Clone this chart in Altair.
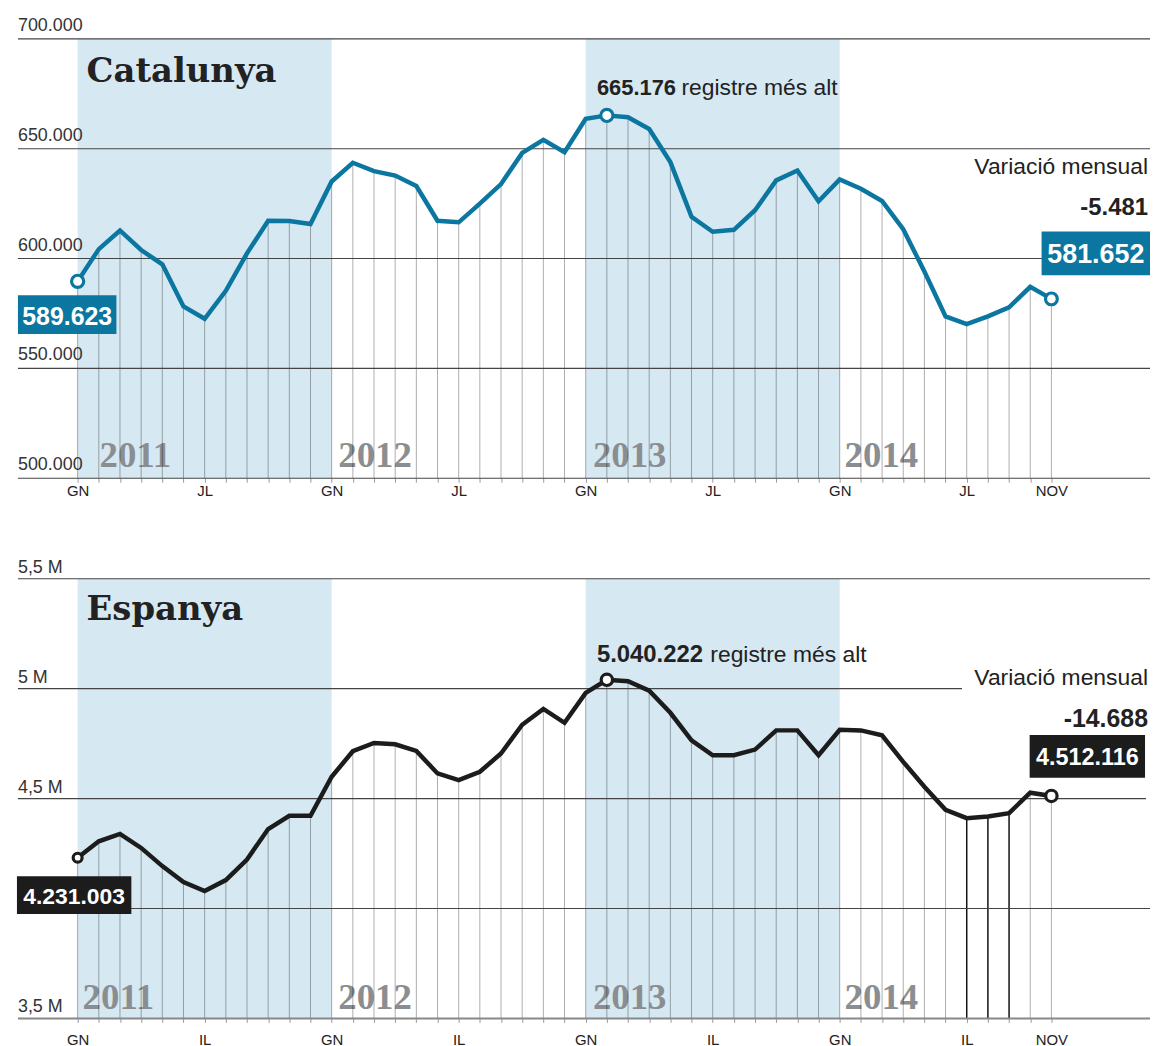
import altair as alt
import pandas as pd

# ---------------- data ----------------
month_index = list(range(47))  # GN 2011 ... NOV 2014
catalunya = [589623, 604300, 612800, 603900, 597400, 578200, 572600, 585300, 602400, 617200, 617100, 615700,
             635100, 643600, 639800, 637800, 633000, 617200, 616500, 625000, 633900, 648100, 654000, 648400,
             663600, 665176, 664300, 659000, 643900, 619000, 612200, 613100, 622000, 635600, 640100, 626100,
             636000, 631800, 626200, 613400, 594100, 573700, 570200, 573700, 577800, 587133, 581652]
espanya = [4231003, 4305700, 4338900, 4275600, 4192800, 4120500, 4079800, 4129500, 4222900, 4361500, 4421700, 4422000,
           4599400, 4715400, 4753000, 4747000, 4716900, 4614500, 4584400, 4622000, 4704800, 4835900, 4908100, 4844900,
           4980400, 5040222, 5034000, 4991000, 4890100, 4765100, 4697300, 4697300, 4722900, 4810300, 4810300, 4697300,
           4813000, 4810000, 4787700, 4667200, 4554200, 4448800, 4411200, 4418700, 4433800, 4526804, 4512116]
axis_tick_index = [0, 6, 12, 18, 24, 30, 36, 42, 46]
cat_axis_labels = ["GN", "JL", "GN", "JL", "GN", "JL", "GN", "JL", "NOV"]
esp_axis_labels = ["GN", "IL", "GN", "IL", "GN", "IL", "GN", "IL", "NOV"]
year_names = ["2011", "2012", "2013", "2014"]
shaded_from = [0, 24]
shaded_to = [12, 36]
cat_grid_values = [500000, 550000, 600000, 650000, 700000]
cat_grid_labels = ["500.000", "550.000", "600.000", "650.000", "700.000"]
esp_grid_values = [3500000, 4000000, 4500000, 5000000, 5500000]
esp_grid_labels = ["3,5 M", "", "4,5 M", "5 M", "5,5 M"]  # the 4 M label sits hidden behind the value box
highlight_months = [0, 25, 46]
cat_change = -5481
esp_change = -14688


def fmt(v):
    s = f"{abs(v):,}".replace(",", ".")
    return ("-" if v < 0 else "") + s


# ---------------- layout ----------------
PAD_LEFT, PAD_TOP = 9, 4
PLOT_LEFT = 8 + PAD_LEFT          # page x of plot left edge
X0_PAGE = 77.0                    # page x of GN 2011
DX = 21.28                        # px per month
W = 1138
X_MIN = (PLOT_LEFT - X0_PAGE) / DX
X_MAX = (PLOT_LEFT + W - X0_PAGE) / DX

H1, H2, GAP = 466, 467, 76
TOP1 = 8 + PAD_TOP
BOT1 = TOP1 + H1                  # page y of 500.000
TOP2 = BOT1 + GAP
BOT2 = TOP2 + H2                  # page y of 3,5 M
K1 = 200000 / 441.7
K2 = 2000000 / 442.0


def ix(px):
    return (px - X0_PAGE) / DX


def vy1(py):
    return 500000 + (BOT1 - py) * K1


def vy2(py):
    return 3500000 + (BOT2 - py) * K2


NUM_FONT = "Liberation Sans, Arial, sans-serif"
TXT_FONT = "Liberation Sans, Arial, sans-serif"
SERIF = "DejaVu Serif, serif"
YEAR_FONT = "Liberation Serif, serif"
BLUE = "#0b77a1"
BLACK = "#1c1c1c"
SHADE = "#d6e8f2"


def panel(values, color, vy, h, ymin, ygrid_top, grid_vals, grid_labels, grid_ends, grid_colors,
          grid_widths, axis_labels, label_pad, label_dy, title, title_base, years_px, year_base,
          marker_sizes, drop_colors, drop_widths, boxes, annots):
    ytop = vy(BOT1 - h) if vy is vy1 else vy(BOT2 - h)
    xs = alt.Scale(domain=[X_MIN, X_MAX], nice=False, zero=False)
    ys = alt.Scale(domain=[ymin, ytop], nice=False, zero=False)
    expr = ""
    for i, l in zip(axis_tick_index, axis_labels):
        expr += f"datum.value == {i} ? '{l}' : "
    expr += "''"
    xaxis = alt.Axis(values=month_index, labelExpr=expr, tickSize=4, tickColor="#999", tickWidth=1,
                     domain=False, grid=False, labelFont=TXT_FONT, labelFontSize=15, labelColor="#222",
                     labelPadding=label_pad, labelFlush=False, labelOverlap=False, title=None)

    def X(f):
        return alt.X(f"{f}:Q", scale=xs, axis=xaxis, title=None)

    def Y(f):
        return alt.Y(f"{f}:Q", scale=ys, axis=None, title=None)

    layers = []
    bands = pd.DataFrame({"x0": shaded_from, "x1": shaded_to, "y0": [ymin] * 2, "y1": [ygrid_top] * 2})
    layers.append(alt.Chart(bands).mark_rect(color=SHADE).encode(
        x=X("x0"), x2="x1", y=Y("y0"), y2="y1"))

    yr = pd.DataFrame({"x": [ix(p) for p in years_px], "y": [vy(year_base)] * 4, "t": year_names})
    layers.append(alt.Chart(yr).mark_text(align="left", baseline="alphabetic", font=YEAR_FONT,
                                          fontSize=37, fontWeight="bold", color="#8a8e91").encode(
        x=X("x"), y=Y("y"), text="t:N"))

    df = pd.DataFrame({"idx": month_index, "value": values, "base": [ymin] * len(values),
                       "dc": drop_colors, "dw": drop_widths})
    layers.append(alt.Chart(df).mark_rule().encode(
        x=X("idx"), y=Y("value"), y2="base",
        color=alt.Color("dc:N", scale=None), strokeWidth=alt.StrokeWidth("dw:Q", scale=None)))

    g = pd.DataFrame({"v": grid_vals, "lab": grid_labels, "xs": [X_MIN] * 5, "xe": grid_ends,
                      "gc": grid_colors, "gw": grid_widths})
    layers.append(alt.Chart(g).mark_rule().encode(
        x=X("xs"), x2="xe", y=Y("v"),
        color=alt.Color("gc:N", scale=None), strokeWidth=alt.StrokeWidth("gw:Q", scale=None)))
    layers.append(alt.Chart(g).mark_text(align="left", baseline="alphabetic", dy=label_dy, font=TXT_FONT,
                                         fontSize=18, color="#333").encode(
        x=X("xs"), y=Y("v"), text="lab:N"))

    tdf = pd.DataFrame({"x": [ix(86)], "y": [vy(title_base)], "t": [title]})
    layers.append(alt.Chart(tdf).mark_text(align="left", baseline="alphabetic", font=SERIF, fontSize=34,
                                           fontWeight="bold", color="#222").encode(
        x=X("x"), y=Y("y"), text="t:N"))

    layers.append(alt.Chart(df).mark_line(color=color, strokeWidth=4.5).encode(x=X("idx"), y=Y("value")))

    mk = pd.DataFrame({"idx": highlight_months, "value": [values[i] for i in highlight_months],
                       "s": marker_sizes})
    layers.append(alt.Chart(mk).mark_point(shape="circle", filled=True, fill="white", stroke=color,
                                           strokeWidth=3.2, opacity=1).encode(
        x=X("idx"), y=Y("value"), size=alt.Size("s:Q", scale=None)))

    for (x0, x1, y0, y1, txt, base, fs, bc) in boxes:
        b = pd.DataFrame({"x0": [ix(x0)], "x1": [ix(x1)], "y0": [vy(y1)], "y1": [vy(y0)],
                          "xc": [ix((x0 + x1) / 2)], "yb": [vy(base)], "t": [txt]})
        layers.append(alt.Chart(b).mark_rect(color=bc).encode(x=X("x0"), x2="x1", y=Y("y0"), y2="y1"))
        layers.append(alt.Chart(b).mark_text(align="center", baseline="alphabetic", font=NUM_FONT,
                                             fontSize=fs, fontWeight="bold", color="white").encode(
            x=X("xc"), y=Y("yb"), text="t:N"))

    for (px, py, txt, align, font, fs, fw) in annots:
        a = pd.DataFrame({"x": [ix(px)], "y": [vy(py)], "t": [txt]})
        layers.append(alt.Chart(a).mark_text(align=align, baseline="alphabetic", font=font, fontSize=fs,
                                             fontWeight=fw, color="#222").encode(
            x=X("x"), y=Y("y"), text="t:N"))

    return alt.layer(*layers).properties(width=W, height=h)


top = panel(
    catalunya, BLUE, vy1, H1, 500000, 700000,
    cat_grid_values, cat_grid_labels, [X_MAX] * 5, ["#444"] * 5, [1.1] * 5,
    cat_axis_labels, 1, -8, "Catalunya", 80, [99, 339, 595, 848], 467,
    [150, 150, 140], ["rgba(0,0,0,0.32)"] * 47, [1] * 47,
    [(17, 116, 294, 333, fmt(catalunya[0]), 324, 25, BLUE),
     (1046, 1155, 230, 274, fmt(catalunya[-1]), 262, 27, BLUE)],
    [(599, 93, fmt(max(catalunya)), "left", NUM_FONT, 22, "bold"),
     (684, 93, "registre més alt", "left", TXT_FONT, 23, "normal"),
     (1153, 172, "Variació mensual", "right", TXT_FONT, 23, "normal"),
     (1153, 213, fmt(cat_change), "right", NUM_FONT, 24, "bold")],
)

esp_drop_colors = ["rgba(0,0,0,0.32)"] * 47
esp_drop_widths = [1] * 47
for i in (42, 43, 44):
    esp_drop_colors[i] = "#111"
    esp_drop_widths[i] = 1.5

bottom = panel(
    espanya, BLACK, vy2, H2, 3500000, 5500000,
    esp_grid_values, esp_grid_labels, [X_MAX, X_MAX, ix(1151), ix(966), X_MAX],
    ["#888", "#444", "#444", "#444", "#444"], [2, 1.1, 1.1, 1.1, 1.1],
    esp_axis_labels, 10, -6, "Espanya", 620, [82, 339, 595, 848], 1012,
    [80, 130, 130], esp_drop_colors, esp_drop_widths,
    [(16, 131, 878, 916, fmt(espanya[0]), 906, 23, BLACK),
     (1034, 1150, 736, 779, fmt(espanya[-1]), 766, 23.5, BLACK)],
    [(599, 663, fmt(max(espanya)), "left", NUM_FONT, 24, "bold"),
     (713, 663, "registre més alt", "left", TXT_FONT, 23, "normal"),
     (1153, 686, "Variació mensual", "right", TXT_FONT, 23, "normal"),
     (1153, 728, fmt(esp_change), "right", NUM_FONT, 25, "bold")],
)

chart = alt.vconcat(top, bottom, spacing=GAP, bounds="flush").resolve_scale(
    x="independent", y="independent").properties(
    padding={"left": PAD_LEFT, "top": PAD_TOP, "right": 0, "bottom": 0},
    background="white",
).configure_view(stroke=None)

chart.save("out.html", embed_options={"renderer": "svg", "actions": False})
